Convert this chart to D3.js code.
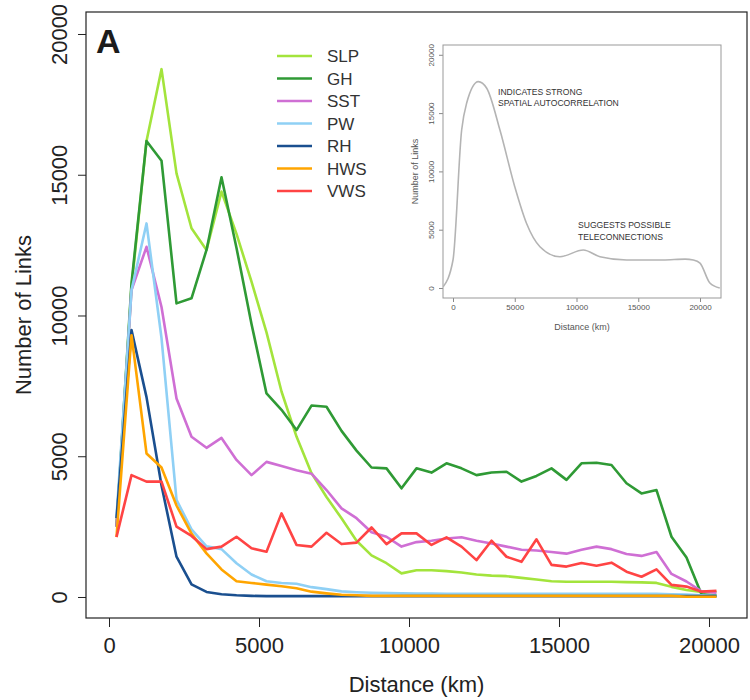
<!DOCTYPE html>
<html>
<head>
<meta charset="utf-8">
<script src="https://cdn.jsdelivr.net/npm/d3@7"></script>
<style>
  body { margin: 0; background: #fff; }
  svg { display: block; font-family: "Liberation Sans", Arial, sans-serif; }
</style>
</head>
<body>
<div id="chart"></div>
<script>
// distance bins (km)
const distance = [250, 750, 1250, 1750, 2250, 2750, 3250, 3750, 4250, 4750,
  5250, 5750, 6250, 6750, 7250, 7750, 8250, 8750, 9250, 9750,
  10250, 10750, 11250, 11750, 12250, 12750, 13250, 13750, 14250, 14750,
  15250, 15750, 16250, 16750, 17250, 17750, 18250, 18750, 19250, 19750, 20250]

const slp = [2500, 11000, 16200, 18750, 15050, 13100, 12330, 14400, 12900, 11200,
  9400, 7300, 5700, 4400, 3550, 2800, 2000, 1480, 1200, 840,
  950, 950, 920, 870, 800, 760, 740, 680, 620, 560,
  540, 540, 540, 540, 530, 520, 500, 360, 250, 180, 180]

const gh = [2500, 11150, 16200, 15500, 10430, 10610, 12330, 14910, 12400, 9700,
  7230, 6650, 5930, 6800, 6760, 5900, 5200, 4600, 4570, 3860,
  4570, 4420, 4750, 4570, 4330, 4420, 4450, 4100, 4300, 4570,
  4160, 4750, 4770, 4690, 4040, 3680, 3800, 2140, 1400, 100, 50]

const sst = [2500, 10900, 12440, 10300, 7050, 5690, 5300, 5650, 4870, 4330,
  4800, 4650, 4500, 4380, 3800, 3150, 2800, 2300, 2140, 1790,
  1950, 2000, 2080, 2120, 2000, 1900, 1790, 1680, 1650, 1600,
  1540, 1680, 1790, 1700, 1530, 1460, 1600, 820, 550, 200, 150]

const pw = [2840, 10900, 13270, 9200, 3450, 2400, 1800, 1700, 1200, 800,
  560, 500, 470, 350, 280, 200, 170, 150, 140, 130,
  120, 120, 110, 110, 110, 110, 110, 110, 110, 110,
  110, 110, 110, 110, 110, 110, 110, 100, 90, 60, 40]

const rh = [2800, 9480, 7100, 3960, 1430, 450, 180, 100, 60, 40,
  30, 30, 30, 30, 30, 30, 30, 30, 30, 30,
  30, 30, 30, 30, 30, 30, 30, 30, 30, 30,
  30, 30, 30, 30, 30, 30, 30, 30, 30, 30, 30]

const hws = [2130, 9300, 5100, 4600, 3250, 2250, 1550, 980, 560, 500,
  440, 380, 310, 190, 130, 80, 60, 40, 40, 40,
  40, 40, 40, 40, 40, 40, 40, 40, 40, 40,
  40, 40, 40, 40, 40, 40, 40, 40, 10, 10, 10]

const vws = [2130, 4330, 4100, 4100, 2500, 2170, 1700, 1790, 2140, 1730,
  1610, 2970, 1850, 1790, 2280, 1880, 1930, 2470, 1880, 2260,
  2260, 1850, 2120, 1790, 1310, 2000, 1430, 1250, 2050, 1140,
  1080, 1210, 1110, 1220, 900, 720, 980, 430, 370, 190, 220]

const seriesNames = ['SLP', 'GH', 'SST', 'PW', 'RH', 'HWS', 'VWS']
const seriesValues = [slp, gh, sst, pw, rh, hws, vws]
const seriesColors = ['#a3e43c', '#2f9a35', '#cf6fd4', '#8fd0f5', '#1a4f8f', '#ffa500', '#ff4444']

const xTicks = [0, 5000, 10000, 15000, 20000]
const yTicks = [0, 5000, 10000, 15000, 20000]

// inset: total links vs distance
const insetDist = [-800, 0, 700, 1100, 2050, 2730, 3800, 5000, 5950, 7040,
  8660, 10550, 11900, 14060, 17000, 18800, 19460, 20000, 20800, 21600]
const insetLinks = [100, 2400, 13550, 15840, 17700, 17130, 13550, 8690, 5550, 3540,
  2680, 3260, 2680, 2400, 2400, 2480, 2400, 2140, 430, 0]

const W = 750, H = 700
const svg = d3.select('#chart').append('svg').attr('width', W).attr('height', H)

// ---- main panel ----
const box = {left: 86, right: 747, top: 12, bottom: 618}
const x = d3.scaleLinear().domain([-767, 21267]).range([box.left, box.right])
const y = d3.scaleLinear().domain([-746, 20781]).range([box.bottom, box.top])

const axisColor = '#222'

const xAxis = svg.append('g')
  .attr('transform', 'translate(0,' + box.bottom + ')')
  .call(d3.axisBottom(x).tickValues(xTicks).tickSize(9).tickFormat(d3.format('d')))
xAxis.select('.domain').remove()
xAxis.selectAll('line').attr('stroke', axisColor)
xAxis.selectAll('text')
  .attr('y', 35).attr('dy', 0)
  .attr('fill', '#222').style('font-size', '22px')
  .style('font-family', '"Liberation Sans", Arial, sans-serif')

const yAxis = svg.append('g')
  .attr('transform', 'translate(' + box.left + ',0)')
  .call(d3.axisLeft(y).tickValues(yTicks).tickSize(8).tickFormat(d3.format('d')))
yAxis.select('.domain').remove()
yAxis.selectAll('line').attr('stroke', axisColor)
yAxis.selectAll('text')
  .attr('x', 0).attr('y', -19).attr('dy', 0)
  .attr('transform', 'rotate(-90)')
  .attr('text-anchor', 'middle')
  .attr('fill', '#222').style('font-size', '22px')
  .style('font-family', '"Liberation Sans", Arial, sans-serif')

svg.append('rect')
  .attr('x', box.left).attr('y', box.top)
  .attr('width', box.right - box.left).attr('height', box.bottom - box.top)
  .attr('fill', 'none').attr('stroke', axisColor).attr('stroke-width', 1.2)

svg.append('text')
  .attr('x', (box.left + box.right) / 2).attr('y', 692)
  .attr('text-anchor', 'middle')
  .style('font-size', '22px').attr('fill', '#222')
  .text('Distance (km)')

svg.append('text')
  .attr('transform', 'translate(31,' + (box.top + box.bottom) / 2 + ') rotate(-90)')
  .attr('text-anchor', 'middle')
  .style('font-size', '22px').attr('fill', '#222')
  .text('Number of Links')

svg.append('text')
  .attr('x', 96).attr('y', 53)
  .style('font-size', '34px').style('font-weight', 'bold').attr('fill', '#1c1c1c')
  .text('A')

// series lines
const line = d3.line()
  .x((d, i) => x(distance[i]))
  .y(d => y(d))

seriesValues.forEach((vals, i) => {
  svg.append('path')
    .datum(vals)
    .attr('fill', 'none')
    .attr('stroke', seriesColors[i])
    .attr('stroke-width', 2.6)
    .attr('stroke-linejoin', 'round')
    .attr('d', line)
})

// legend
const legend = svg.append('g')
seriesNames.forEach((name, i) => {
  const ly = 56 + i * 22.5
  legend.append('line')
    .attr('x1', 277).attr('x2', 312).attr('y1', ly).attr('y2', ly)
    .attr('stroke', seriesColors[i]).attr('stroke-width', 2.6)
  legend.append('text')
    .attr('x', 327).attr('y', ly).attr('dy', '0.36em')
    .style('font-size', '17px').attr('fill', '#333')
    .text(name)
})

// ---- inset panel ----
const ib = {left: 443, right: 721, top: 45, bottom: 298}
const ix = d3.scaleLinear().domain([-810, 21700]).range([ib.left, ib.right])
const iy = d3.scaleLinear().domain([-858, 20840]).range([ib.bottom, ib.top])
const insetColor = '#555'

const ixAxis = svg.append('g')
  .attr('transform', 'translate(0,' + ib.bottom + ')')
  .call(d3.axisBottom(ix).tickValues(xTicks).tickSize(4).tickFormat(d3.format('d')))
ixAxis.select('.domain').remove()
ixAxis.selectAll('line').attr('stroke', '#888')
ixAxis.selectAll('text')
  .attr('y', 12).attr('dy', 0)
  .attr('fill', insetColor).style('font-size', '8px')
  .style('font-family', '"Liberation Sans", Arial, sans-serif')

const iyAxis = svg.append('g')
  .attr('transform', 'translate(' + ib.left + ',0)')
  .call(d3.axisLeft(iy).tickValues(yTicks).tickSize(4).tickFormat(d3.format('d')))
iyAxis.select('.domain').remove()
iyAxis.selectAll('line').attr('stroke', '#888')
iyAxis.selectAll('text')
  .attr('x', 0).attr('y', -9).attr('dy', 0)
  .attr('transform', 'rotate(-90)')
  .attr('text-anchor', 'middle')
  .attr('fill', insetColor).style('font-size', '8px')
  .style('font-family', '"Liberation Sans", Arial, sans-serif')

svg.append('rect')
  .attr('x', ib.left).attr('y', ib.top)
  .attr('width', ib.right - ib.left).attr('height', ib.bottom - ib.top)
  .attr('fill', 'none').attr('stroke', '#999').attr('stroke-width', 1)

svg.append('clipPath').attr('id', 'insetClip')
  .append('rect')
  .attr('x', ib.left).attr('y', ib.top)
  .attr('width', ib.right - ib.left).attr('height', ib.bottom - ib.top)

const insetLine = d3.line()
  .x((d, i) => ix(insetDist[i]))
  .y(d => iy(d))
  .curve(d3.curveMonotoneX)

svg.append('path')
  .datum(insetLinks)
  .attr('clip-path', 'url(#insetClip)')
  .attr('fill', 'none')
  .attr('stroke', '#b4b4b4')
  .attr('stroke-width', 1.6)
  .attr('d', insetLine)

svg.append('text')
  .attr('x', (ib.left + ib.right) / 2).attr('y', 330)
  .attr('text-anchor', 'middle')
  .style('font-size', '9px').attr('fill', insetColor)
  .text('Distance (km)')

svg.append('text')
  .attr('transform', 'translate(418,' + (ib.top + ib.bottom) / 2 + ') rotate(-90)')
  .attr('text-anchor', 'middle')
  .style('font-size', '9px').attr('fill', insetColor)
  .text('Number of Links')

const notes = [
  {x: 498, y: 95, text: 'INDICATES STRONG'},
  {x: 498, y: 106, text: 'SPATIAL AUTOCORRELATION'},
  {x: 578, y: 228, text: 'SUGGESTS POSSIBLE'},
  {x: 578, y: 240, text: 'TELECONNECTIONS'},
]
notes.forEach(n => {
  svg.append('text')
    .attr('x', n.x).attr('y', n.y)
    .style('font-size', '8.6px').attr('fill', '#333')
    .text(n.text)
})
</script>
</body>
</html>
